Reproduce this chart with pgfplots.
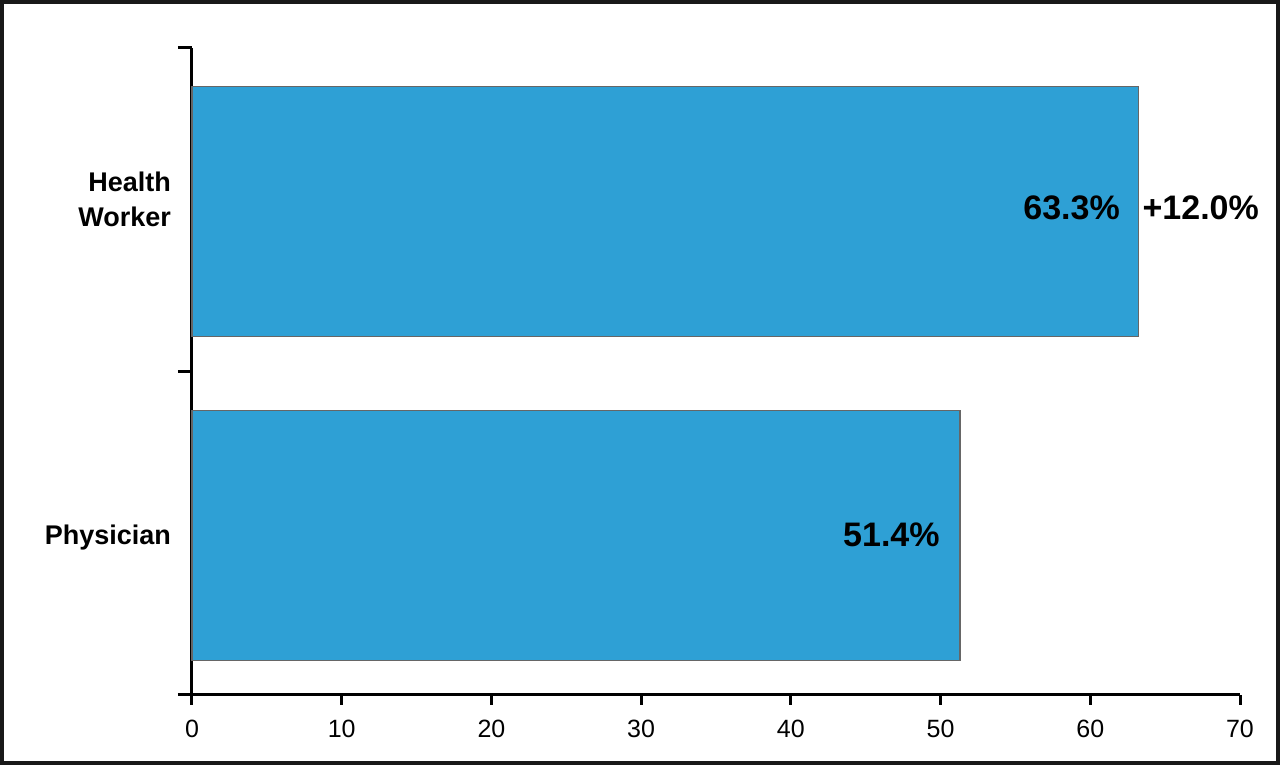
\documentclass[border=0pt]{standalone}
\usepackage{fontspec}
\setmainfont{Liberation Sans}
\usepackage{pgfplots}
\pgfplotsset{compat=1.18}
\definecolor{barblue}{RGB}{46,160,213}
\begin{document}
\begin{tikzpicture}
\useasboundingbox (0,0) rectangle (640pt,382.5pt);
\begin{axis}[
  at={(96pt,35pt)}, anchor=south west,
  scale only axis, width=524pt, height=323.5pt,
  xbar, bar width=125pt, bar shift=-1pt,
  xmin=0, xmax=70, ymin=-0.5, ymax=1.5,
  xtick={0,10,...,70},
  ytick={0},
  yticklabels={Physician},
  extra y ticks={1},
  extra y tick labels={{\begin{tabular}{@{}r@{}}Health\\[0.5pt]Worker\end{tabular}}},
  extra y tick style={yticklabel style={yshift=6pt}},
  minor ytick={-0.5,0.5,1.5},
  axis x line*=bottom, axis y line*=left,
  axis line style={line width=1.5pt},
  tick align=outside,
  major tick length=5pt, minor tick length=7pt,
  every major x tick/.append style={line width=1.5pt, black},
  every major y tick/.append style={draw=none},
  every minor y tick/.append style={line width=1.5pt, black},
  /pgf/number format/assume math mode=true,
  xticklabel style={font=\fontsize{12.5}{14}\selectfont, yshift=-4pt},
  yticklabel style={font=\bfseries\fontsize{13.5}{17}\selectfont, xshift=-2pt, yshift=-2pt},
  clip=false,
]
\addplot[fill=barblue, draw=black!60, line width=0.6pt] coordinates {(51.3,0) (63.2,1)};
\node[anchor=east, font=\bfseries\fontsize{17}{19}\selectfont, inner sep=0pt, xshift=-9pt, yshift=1pt] at (axis cs:63.2,1) {63.3\%};
\node[anchor=west, font=\bfseries\fontsize{17}{19}\selectfont, inner sep=0pt, xshift=2pt, yshift=1pt] at (axis cs:63.2,1) {+12.0\%};
\node[anchor=east, font=\bfseries\fontsize{17}{19}\selectfont, inner sep=0pt, xshift=-10pt, yshift=-1pt] at (axis cs:51.3,0) {51.4\%};
\end{axis}
\draw[line width=2pt, black!90] (1pt,1pt) rectangle (639pt,381.5pt);
\end{tikzpicture}
\end{document}
